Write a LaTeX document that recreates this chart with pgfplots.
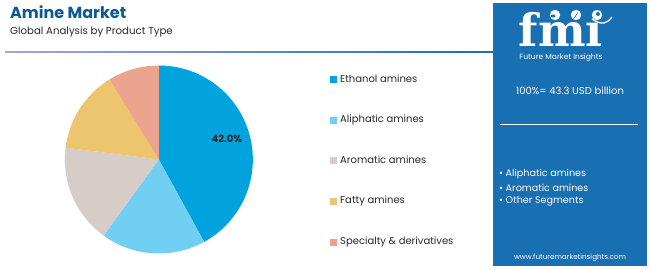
\documentclass[border=0pt]{standalone}
\usepackage{fontspec}
\setmainfont{Poppins}
\newfontfamily\logofont{DejaVu Serif}
\usepackage{pgfplots}
\pgfplotsset{compat=1.18}
\usepackage{pgfplotstable}

\definecolor{cEth}{RGB}{0,163,222}
\definecolor{cAli}{RGB}{112,207,242}
\definecolor{cAro}{RGB}{214,204,200}
\definecolor{cFat}{RGB}{236,197,110}
\definecolor{cSpe}{RGB}{235,165,142}
\definecolor{titleblue}{RGB}{14,88,148}
\definecolor{panel}{RGB}{24,111,177}
\definecolor{txt}{RGB}{40,40,40}

% shares in percent (clockwise from 12 o'clock)
\pgfplotstableread{
name value
Ethanol 42.0
Aliphatic 18.0
Aromatic 17.0
Fatty 14.2
Specialty 8.8
}\sharetable

\pgfplotstablegetelem{0}{value}\of\sharetable \let\vA\pgfplotsretval
\pgfplotstablegetelem{1}{value}\of\sharetable \let\vB\pgfplotsretval
\pgfplotstablegetelem{2}{value}\of\sharetable \let\vC\pgfplotsretval
\pgfplotstablegetelem{3}{value}\of\sharetable \let\vD\pgfplotsretval
\pgfplotstablegetelem{4}{value}\of\sharetable \let\vE\pgfplotsretval

\pgfmathsetmacro{\aO}{90}
\pgfmathsetmacro{\aA}{\aO-3.6*\vA}
\pgfmathsetmacro{\aB}{\aA-3.6*\vB}
\pgfmathsetmacro{\aC}{\aB-3.6*\vC}
\pgfmathsetmacro{\aD}{\aC-3.6*\vD}
\pgfmathsetmacro{\aE}{\aD-3.6*\vE}

\begin{document}
\begin{tikzpicture}[x=1pt,y=1pt]
\path[use as bounding box, fill=white] (0,0) rectangle (650,269);

% title
\node[anchor=base west, inner sep=0, text=titleblue, font=\fontsize{16}{18}\selectfont\bfseries] at (10,250.5) {Amine Market};
\node[anchor=base west, inner sep=0, text=txt, font=\fontsize{10.2}{12}\selectfont] at (10,234.5) {Global Analysis by Product Type};
\shade[left color=gray!60!blue!50, right color=panel] (5,216.3) rectangle (493,217.8);

% pie
\begin{axis}[
  at={(169,116.5)}, anchor=origin,
  scale only axis, width=188pt, height=188pt,
  xmin=-1, xmax=1, ymin=-1, ymax=1,
  hide axis, clip=false,
]
\addplot[draw=none, fill=cEth, domain=\aA:\aO, samples=90, variable=\t] ({cos(t)},{sin(t)}) -- (axis cs:0,0) -- cycle;
\addplot[draw=none, fill=cAli, domain=\aB:\aA, samples=60, variable=\t] ({cos(t)},{sin(t)}) -- (axis cs:0,0) -- cycle;
\addplot[draw=none, fill=cAro, domain=\aC:\aB, samples=60, variable=\t] ({cos(t)},{sin(t)}) -- (axis cs:0,0) -- cycle;
\addplot[draw=none, fill=cFat, domain=\aD:\aC, samples=60, variable=\t] ({cos(t)},{sin(t)}) -- (axis cs:0,0) -- cycle;
\addplot[draw=none, fill=cSpe, domain=\aE:\aD, samples=40, variable=\t] ({cos(t)},{sin(t)}) -- (axis cs:0,0) -- cycle;
\node[font=\fontsize{10}{12}\selectfont\bfseries, text=black!85] at (axis cs:0.723,0.218) {42.0\%};
\end{axis}

% legend
\foreach \c/\t/\y in {cEth/Ethanol amines/190, cAli/Aliphatic amines/149, cAro/Aromatic amines/109, cFat/Fatty amines/68, cSpe/Specialty \& derivatives/27}{
  \fill[\c] (330,\y-3.5) rectangle (337,\y+3.5);
  \node[anchor=west, inner sep=0, text=txt, font=\fontsize{10}{12}\selectfont] at (340,\y+0.5) {\t};
}

% right panel
\fill[panel] (493,3) rectangle (647,266);
\node[anchor=base, inner sep=0, text depth=0pt, text height=30pt, text=white, font=\logofont\fontsize{45}{45}\selectfont\bfseries] at (561,223) {fm\char"0131};
\foreach \yy in {26,30.5,35,39.5,44,48.5,53}{
  \draw[panel, line width=0.9pt] (505,\yy+1) -- (620,\yy+1);
}
\fill[white] (555,254) circle (5.2);
\fill[white] (576,254) circle (5.2);
\fill[white] (597,254) circle (5.2);
\fill[panel] (553,253) ellipse (2.5 and 1.5);
\fill[panel] (576,253) -- (573,250) -- (578,257) -- cycle;
\fill[panel] (598,255) circle (2);
\draw[white, line width=1.3pt] (592,250) .. controls (602,243) and (608,246) .. (612,252);
\node[anchor=center, inner sep=0, text=white, font=\fontsize{7.6}{9}\selectfont] at (561,211.5) {Future Market Insights};
\node[anchor=center, inner sep=0, text=white, font=\fontsize{10}{12}\selectfont] at (570,178) {100\%= 43.3 USD billion};
\draw[white, line width=0.8pt] (500,145) -- (638,145);
\foreach \t/\y in {Aliphatic amines/95, Aromatic amines/81, Other Segments/68}{
  \node[anchor=west, inner sep=0, text=white, font=\fontsize{9.6}{12}\selectfont] at (499,\y) {\textbullet\ \t};
}
\node[anchor=center, inner sep=0, text=white, font=\fontsize{7.2}{9}\selectfont] at (570,11) {www.futuremarketinsights.com};
\end{tikzpicture}
\end{document}
